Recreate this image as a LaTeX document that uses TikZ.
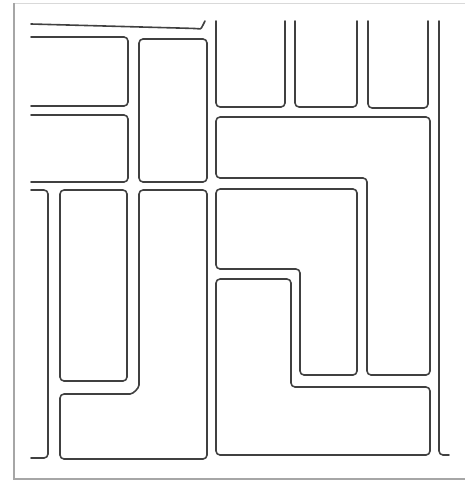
\documentclass[tikz,border=0pt]{standalone}
\usepackage{tikz}
\usetikzlibrary{positioning,calc}

\begin{document}
\begin{tikzpicture}[x=1pt, y=-1pt]
  \tikzset{
    blk/.style={draw=black!75,line width=1.6pt,rounded corners=4pt,
                line join=round,line cap=round},
    frm/.style={draw=black!15,line width=0.8pt},
    shd/.style={draw=black!35,line width=2.2pt}
  }
  \useasboundingbox (0,0) rectangle (464,484);
  % Frame with shadow
  \draw[frm] (14,3) rectangle (470,479);
  \draw[shd] (14,3) -- (14,479) -- (470,479);

  % Top left: open blocks and the tall block
  \draw[blk] (31,24) -- (196,28.5) .. controls (201,29) .. (205,21);
  \draw[blk] (31,37) -| (128,106) -- (31,106);
  \draw[blk] (31,115) -| (128,182) -- (31,182);
  \draw[blk] (139,39) rectangle (207,182);

  % Top right: three open blocks and the long right line
  \draw[blk] (216,21) |- (285,107) -- (285,21);
  \draw[blk] (295,21) |- (357,107) -- (357,21);
  \draw[blk] (368,21) |- (428,108) -- (428,21);
  \draw[blk] (439,21) -- (439,455) -- (449,455);

  % Right: nested L-shaped blocks
  \draw[blk] (216,117) -- (430,117) -- (430,375) -- (367,375)
    -- (367,178) -- (216,178) -- cycle;
  \draw[blk] (216,189) -- (357,189) -- (357,375) -- (300,375)
    -- (300,269) -- (216,269) -- cycle;
  \draw[blk] (216,279) -- (291,279) -- (291,387) -- (430,387)
    -- (430,455) -- (216,455) -- cycle;

  % Bottom left
  \draw[blk] (31,190) -| (48,458) -- (31,458);
  \draw[blk] (60,190) rectangle (127,381);
  \draw[blk] (139,190) -- (207,190) -- (207,459) -- (60,459) -- (60,394)
    -- (126,394) to[out=0,in=-90] (139,381) -- cycle;
\end{tikzpicture}
\end{document}
